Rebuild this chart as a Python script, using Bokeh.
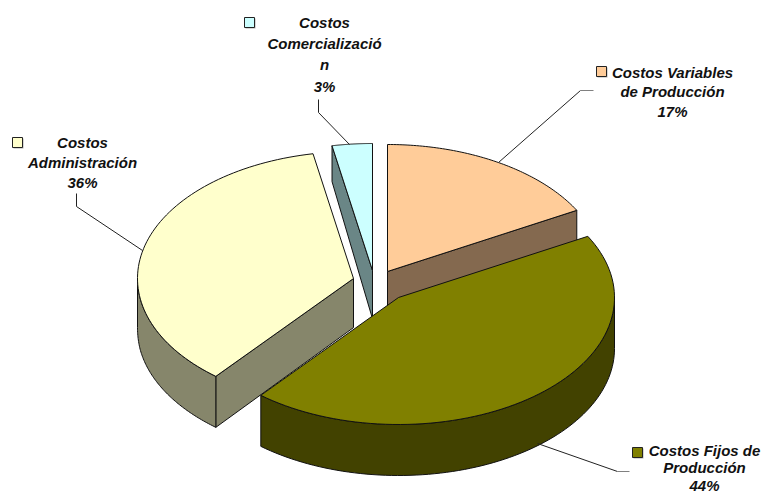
import numpy as np
from bokeh.core.properties import value
from bokeh.embed import file_html
from bokeh.models import Range1d
from bokeh.plotting import figure
from bokeh.resources import INLINE

# Cost shares, clockwise from twelve o'clock
categories = ["Costos Variables de Producción", "Costos Fijos de Producción",
              "Costos Administración", "Costos Comercialización"]
shares = [17, 44, 36, 3]
label_lines = [["Costos Variables", "de Producción"],
               ["Costos Fijos de", "Producción"],
               ["Costos", "Administración"],
               ["Costos", "Comercializació", "n"]]
top_colors = ["#FFCC99", "#808000", "#FFFFCC", "#CCFFFF"]
wall_colors = ["#84694F", "#424200", "#86866B", "#6A8686"]

# Pie projection in page pixels
RX, RY = 216, 127
apexes = [(387, 271), (398, 297), (353, 278), (372, 270)]

# Label layout: centre x, first line centre y, line step
label_pos = [(672, 72, 19.3), (704, 449.5, 17.5), (82, 142, 20), (324, 21.5, 21.4)]
key_pos = [(596, 66), (632, 447), (12, 137), (244, 17)]
leaders = [[(498, 162), (580, 90)], [(537, 443), (617, 471)],
           [(142, 250), (76, 206), (76, 193)], [(349, 144), (318, 112), (318, 99)]]
leader_tails = [[(580, 90), (593, 90)], [(617, 471), (629, 471)], [], []]

p = figure(width=763, height=495, output_backend="svg", toolbar_location=None,
           x_range=Range1d(0, 763), y_range=Range1d(495, 0), min_border=0,
           outline_line_color=None, background_fill_color="white")
p.axis.visible = False
p.grid.visible = False


def drop(y):
    """Wall height grows toward the viewer."""
    return np.minimum(51, 36 + 0.1 * (np.asarray(y, dtype=float) - 147))


def rim(apex, a0, a1):
    th = np.radians(np.linspace(a0, a1, 80))
    return apex[0] + RX * np.sin(th), apex[1] - RY * np.cos(th)


def wall(xs, ys, color):
    xs, ys = np.asarray(xs, float), np.asarray(ys, float)
    bx = np.concatenate([xs, xs[::-1]])
    by = np.concatenate([ys, (ys + drop(ys))[::-1]])
    p.patch(bx, by, fill_color=color, line_color="#111111", line_width=1)


edges = np.concatenate([[0], np.cumsum(shares)]) * 3.6
spans = list(zip(edges[:-1], edges[1:]))

# Back-to-front: comercialización, variables, administración, fijos
for i in [3, 0, 2, 1]:
    a0, a1 = spans[i]
    apex = apexes[i]
    ax, ay = apex

    # Radial walls that face the viewer
    if i == 0:
        ex, ey = rim(apex, a1, a1)
        wall([ax, ex[0]], [ay, ey[0]], wall_colors[i])
    if i == 3:
        ex, ey = rim(apex, a0, a0)
        wall([ex[0], ax], [ey[0], ay], wall_colors[i])
    if i == 2:
        ex, ey = rim(apex, a0, a0)
        wall([ax, ex[0]], [ay, ey[0]], wall_colors[i])

    # Curved outer wall over the lower half of the rim
    lo, hi = max(a0, 90), min(a1, 270)
    if lo < hi:
        wx, wy = rim(apex, lo, hi)
        wall(wx, wy, wall_colors[i])

    # Top face
    tx, ty = rim(apex, a0, a1)
    p.patch(np.r_[ax, tx], np.r_[ay, ty], fill_color=top_colors[i],
            line_color="#111111", line_width=1)

# Leader lines
for pts in leaders:
    p.line([q[0] for q in pts], [q[1] for q in pts], line_color="#222222", line_width=1)
for pts in leader_tails:
    if pts:
        p.line([q[0] for q in pts], [q[1] for q in pts], line_color="#808080", line_width=1)

# Legend keys with a soft shadow, then the labels
for i, (kx, ky) in enumerate(key_pos):
    p.quad(left=kx + 1, right=kx + 11, top=ky + 1, bottom=ky + 11,
           fill_color="#b0b0b0", line_color=None)
    p.quad(left=kx, right=kx + 10, top=ky, bottom=ky + 10,
           fill_color=top_colors[i], line_color="#222222", line_width=1)

    cx, cy, step = label_pos[i]
    lines = label_lines[i] + [f"{shares[i]}%"]
    p.text(x=[cx] * len(lines), y=[cy + n * step for n in range(len(lines))], text=lines,
           text_font=value("Liberation Sans"), text_font_style="bold italic",
           text_font_size="15px", text_color="#111111",
           text_align="center", text_baseline="middle")

open("out.html", "w").write(file_html(p, INLINE))
